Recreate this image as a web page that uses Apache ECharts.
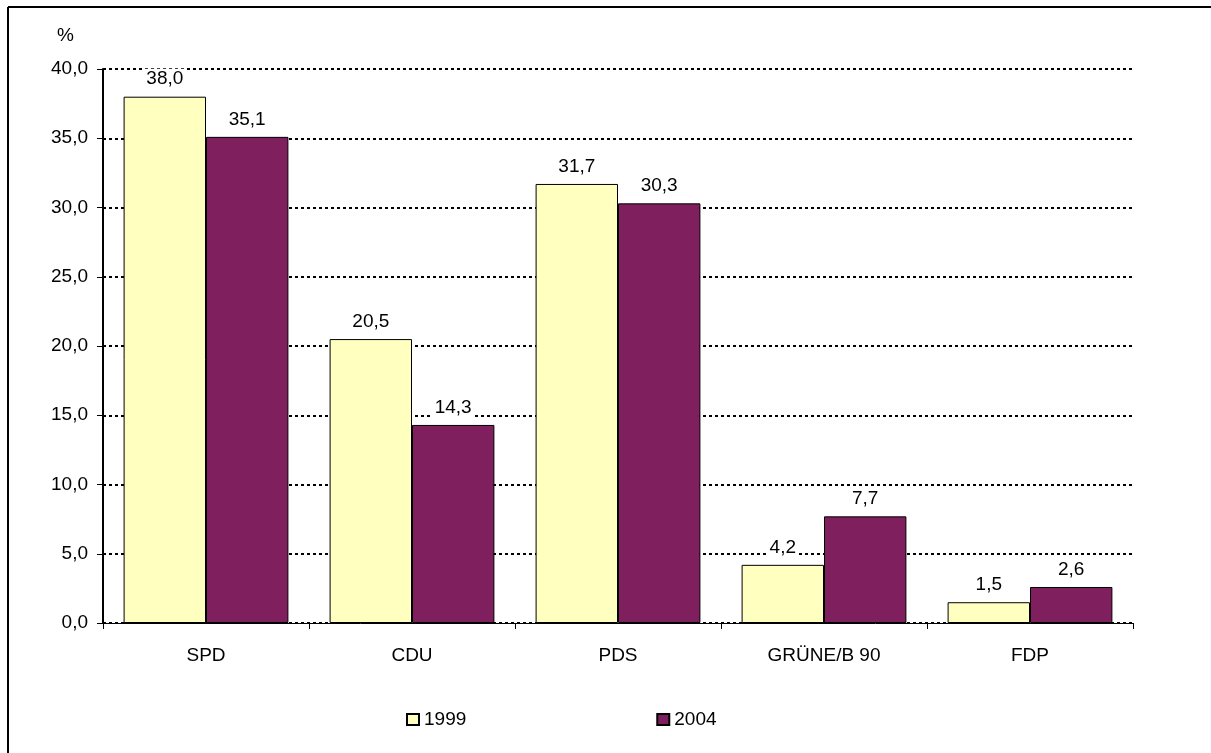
<!DOCTYPE html>
<html><head><meta charset="utf-8">
<script src="https://cdn.jsdelivr.net/npm/echarts@6/dist/echarts.min.js"></script>
<style>html,body{margin:0;padding:0;background:#fff}#c{width:1211px;height:753px}</style>
</head><body><div id="c"></div>
<script>
const categories = ['SPD', 'CDU', 'PDS', 'GRÜNE/B 90', 'FDP'];
const values1999 = [38.0, 20.5, 31.7, 4.2, 1.5];
const values2004 = [35.1, 14.3, 30.3, 7.7, 2.6];
const seriesNames = ['1999', '2004'];
const fmt = v => Number(v).toFixed(1).replace('.', ',');
const font = 'Liberation Sans, Arial, sans-serif';
const FS = 19;
const chart = echarts.init(document.getElementById('c'), null, {renderer: 'canvas'});
const lbl = {
  show: true, position: 'top', distance: 7, color: '#000', fontFamily: font, fontSize: FS,
  backgroundColor: '#fff', padding: [1, 2],
  formatter: p => fmt(p.value)
};
chart.setOption({
  animation: false,
  backgroundColor: '#fff',
  grid: {left: 103, right: 78, top: 69, bottom: 130, containLabel: false},
  graphic: [
    {type: 'line', shape: {x1: 8, y1: 7, x2: 1211, y2: 7}, style: {stroke: '#000', lineWidth: 2}},
    {type: 'line', shape: {x1: 8, y1: 7, x2: 8, y2: 753}, style: {stroke: '#000', lineWidth: 2}},
    {type: 'text', left: 57, top: 26, style: {text: '%', font: FS + 'px ' + font, fill: '#000'}}
  ],
  legend: {
    data: seriesNames, top: 705, left: 401, itemGap: 190, itemWidth: 12, itemHeight: 11,
    icon: 'rect', textStyle: {fontFamily: font, fontSize: FS, color: '#000'}
  },
  xAxis: {
    type: 'category', data: categories,
    axisLine: {lineStyle: {color: '#000', width: 1}},
    axisTick: {show: true, length: 6, lineStyle: {color: '#000'}},
    axisLabel: {color: '#000', fontFamily: font, fontSize: FS, margin: 23}
  },
  yAxis: {
    type: 'value', min: 0, max: 40, interval: 5,
    axisLine: {show: true, lineStyle: {color: '#000', width: 2}},
    axisTick: {show: true, length: 6, lineStyle: {color: '#000'}},
    axisLabel: {color: '#000', fontFamily: font, fontSize: FS, margin: 15, formatter: v => fmt(v)},
    splitLine: {show: true, lineStyle: {color: '#000', width: 2, type: [3, 3]}}
  },
  series: [
    {name: seriesNames[0], type: 'bar', data: values1999, barGap: '0%', barCategoryGap: '20%',
     itemStyle: {color: '#FFFFC0', borderColor: '#000', borderWidth: 1}, label: lbl},
    {name: seriesNames[1], type: 'bar', data: values2004,
     itemStyle: {color: '#801F5E', borderColor: '#000', borderWidth: 1}, label: lbl}
  ]
});
</script></body></html>
